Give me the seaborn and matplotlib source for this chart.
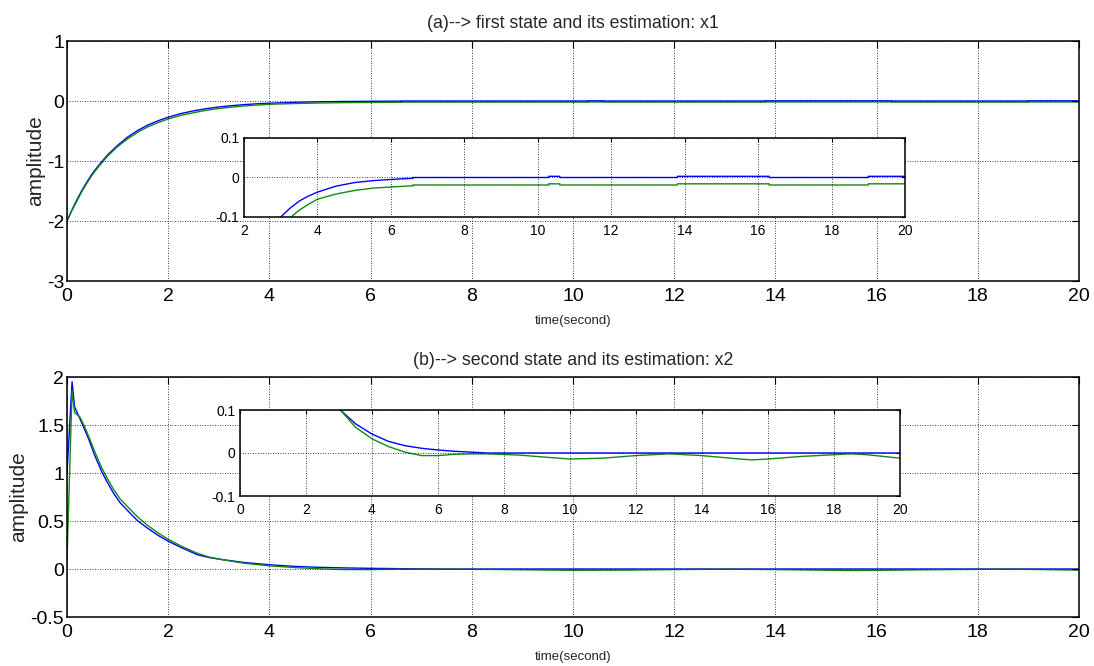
import matplotlib
matplotlib.use("Agg")
import matplotlib.pyplot as plt
import seaborn as sns
import pandas as pd
import numpy as np

# ---------------- data ----------------
# x1: true state (blue) and estimate (green)
t_x1_true = [0, 0.1, 0.2, 0.3, 0.4, 0.5, 0.6, 0.8, 1.0, 1.2, 1.4, 1.6, 1.8, 2.0,
             2.25, 2.5, 2.75, 3.0, 3.25, 3.5, 3.75, 4.0, 4.5, 5.0, 5.5, 6.0,
             6.6, 6.6, 10.3, 10.3, 10.6, 10.6, 13.8, 13.8, 16.3, 16.3, 19.0, 19.0, 20.0]
x1_true = [-2.0, -1.81, -1.64, -1.48, -1.34, -1.21, -1.10, -0.90, -0.74, -0.60, -0.49,
           -0.40, -0.33, -0.27, -0.21, -0.164, -0.128, -0.100, -0.078, -0.060, -0.047,
           -0.037, -0.022, -0.013, -0.008, -0.005,
           -0.002, 0.0, 0.0, 0.003, 0.003, 0.0, 0.0, 0.003, 0.003, 0.0, 0.0, 0.003, 0.003]

t_x1_est = [0, 0.1, 0.2, 0.3, 0.4, 0.5, 0.6, 0.8, 1.0, 1.2, 1.4, 1.6, 1.8, 2.0,
            2.25, 2.5, 2.75, 3.0, 3.28, 3.5, 3.75, 4.0, 4.5, 5.0, 5.5, 6.0,
            6.6, 6.6, 10.3, 10.3, 10.6, 10.6, 13.8, 13.8, 16.3, 16.3, 19.0, 19.0, 20.0]
x1_est = [-2.0, -1.82, -1.66, -1.50, -1.36, -1.23, -1.12, -0.92, -0.76, -0.63, -0.52,
          -0.43, -0.36, -0.30, -0.24, -0.195, -0.155, -0.125, -0.100, -0.083, -0.068,
          -0.055, -0.042, -0.033, -0.027, -0.024,
          -0.021, -0.019, -0.019, -0.016, -0.016, -0.019, -0.019, -0.016, -0.016,
          -0.019, -0.019, -0.016, -0.016]

# x2: true state (blue) and estimate (green)
t_x2_true = [0, 0.1, 0.15, 0.2, 0.26, 0.35, 0.43, 0.55, 0.69, 0.8, 0.92, 1.05, 1.25,
             1.4, 1.58, 1.8, 2.0, 2.25, 2.57, 2.8, 3.04, 3.5, 4.0, 4.5, 5.0, 5.5,
             6.0, 6.5, 7.0, 7.5, 20.0]
x2_true = [1.0, 1.95, 1.69, 1.63, 1.56, 1.45, 1.35, 1.18, 1.01, 0.90, 0.79, 0.69, 0.58,
           0.50, 0.43, 0.35, 0.29, 0.225, 0.15, 0.12, 0.100, 0.068, 0.044, 0.027,
           0.017, 0.011, 0.007, 0.004, 0.002, 0.0, 0.0]

t_x2_est = [0, 0.1, 0.15, 0.26, 0.35, 0.43, 0.55, 0.69, 0.8, 0.92, 1.05, 1.25, 1.4,
            1.58, 1.8, 2.0, 2.25, 2.57, 2.8, 3.04, 3.5, 4.0, 4.5, 5.0, 5.5, 6.0,
            6.5, 7.0, 7.5, 8.5, 9.3, 10.0, 11.0, 12.0, 13.0, 14.0, 15.0, 15.5, 16.0,
            17.0, 18.5, 19.0, 20.0]
x2_est = [0.1, 1.86, 1.63, 1.58, 1.48, 1.38, 1.22, 1.05, 0.94, 0.83, 0.73, 0.62, 0.54,
          0.46, 0.375, 0.31, 0.24, 0.165, 0.125, 0.100, 0.060, 0.033, 0.015, 0.002,
          -0.006, -0.006, -0.003, -0.002, -0.002, -0.005, -0.010, -0.014, -0.012,
          -0.006, -0.002, -0.006, -0.013, -0.016, -0.014, -0.008, -0.002, -0.004, -0.012]

titles = ["(a)--> first state and its estimation: x1",
          "(b)--> second state and its estimation: x2"]
xlabel = "time(second)"
ylabel = "amplitude"

main_yticks = [[-3, -2, -1, 0, 1], [-0.5, 0, 0.5, 1, 1.5, 2]]
main_yticklabels = [["-3", "-2", "-1", "0", "1"], ["-0.5", "0", "0.5", "1", "1.5", "2"]]
main_xticks = [0, 2, 4, 6, 8, 10, 12, 14, 16, 18, 20]
inset_xranges = [(2, 20), (0, 20)]
inset_yticks = [-0.1, 0, 0.1]
inset_yticklabels = ["-0.1", "0", "0.1"]

# ---------------- style ----------------
sns.set_style("white")
plt.rcParams['font.family'] = ['Liberation Sans', 'DejaVu Sans']

BLUE = "#0000ff"
GREEN = "#108a10"

fig = plt.figure(figsize=(10.94, 6.66), dpi=100)
W, H = 1094, 666


def px_axes(l, t, r, b):
    return fig.add_axes([l / W, 1 - b / H, (r - l) / W, (b - t) / H])


def style(ax, tick_fs, ticklen, xpad, ypad):
    for s in ax.spines.values():
        s.set_visible(True)
        s.set_color("black")
        s.set_linewidth(1.1)
    ax.tick_params(direction="in", top=True, right=True, length=ticklen, width=0.8,
                   labelsize=tick_fs, colors="black")
    ax.tick_params(axis="x", pad=xpad)
    ax.tick_params(axis="y", pad=ypad)
    ax.grid(True, color="black", linestyle=(0, (1, 2)), linewidth=0.6)
    ax.set_axisbelow(False)


def draw(ax, t, y, color):
    df = pd.DataFrame({"t": t, "y": y})
    sns.lineplot(data=df, x="t", y="y", ax=ax, color=color, linewidth=1.0,
                 estimator=None, sort=False, legend=False)


series = [(t_x1_true, x1_true, t_x1_est, x1_est), (t_x2_true, x2_true, t_x2_est, x2_est)]
main_boxes = [(67, 41, 1079, 281), (67, 377, 1079, 617)]
inset_boxes = [(244, 138, 905, 217), (240, 410, 900, 496)]

for i in range(2):
    tt, yt, te, ye = series[i]
    ax = px_axes(*main_boxes[i])
    draw(ax, tt, yt, BLUE)
    draw(ax, te, ye, GREEN)
    ax.set_xlim(0, 20)
    ax.set_ylim(main_yticks[i][0], main_yticks[i][-1])
    ax.set_xticks(main_xticks)
    ax.set_xticklabels([str(v) for v in main_xticks])
    ax.set_yticks(main_yticks[i])
    ax.set_yticklabels(main_yticklabels[i])
    style(ax, 14, 5, 5, 2)
    ax.set_title(titles[i], fontsize=12.8, pad=9)
    ax.set_xlabel(xlabel, fontsize=9.5, labelpad=7)
    ax.set_ylabel(ylabel, fontsize=15, labelpad=1.5)

    ins = px_axes(*inset_boxes[i])
    ins.set_facecolor("white")
    draw(ins, tt, yt, BLUE)
    draw(ins, te, ye, GREEN)
    x0, x1 = inset_xranges[i]
    ins.set_xlim(x0, x1)
    ins.set_ylim(-0.1, 0.1)
    ins.set_xticks(list(range(x0, x1 + 1, 2)))
    ins.set_xticklabels([str(v) for v in range(x0, x1 + 1, 2)])
    ins.set_yticks(inset_yticks)
    ins.set_yticklabels(inset_yticklabels)
    style(ins, 10, 3, 5, 3.5)
    ins.set_xlabel("")
    ins.set_ylabel("")

fig.savefig("out.png", dpi=100)
